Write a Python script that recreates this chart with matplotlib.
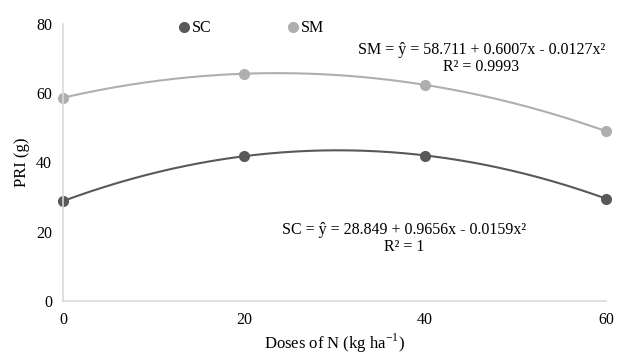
import numpy as np
import matplotlib
matplotlib.use("Agg")
import matplotlib.pyplot as plt

plt.rcParams["font.family"] = ["Liberation Serif", "DejaVu Serif"]

doses = [0, 20, 40, 60]
sc_vals = [28.8, 41.8, 42.0, 29.5]
sm_vals = [58.7, 65.6, 62.4, 49.0]
# trendline coefficients as printed on the chart (c, b, a)
sc_coef = [28.849, 0.9656, -0.0159]
sm_coef = [58.711, 0.6007, -0.0127]
sc_eq = "SC = ŷ = 28.849 + 0.9656x - 0.0159x²\nR² = 1"
sm_eq = "SM = ŷ = 58.711 + 0.6007x - 0.0127x²\nR² = 0.9993"

c_sc = "#595959"
c_sm = "#afafaf"

fig = plt.figure(figsize=(6.19, 3.59), dpi=100)
ax = fig.add_axes([0.102, 0.162, 0.877, 0.771])

xs = np.linspace(0, 60, 200)
for vals, coef, col, lab in ((sc_vals, sc_coef, c_sc, "SC"), (sm_vals, sm_coef, c_sm, "SM")):
    ax.plot(xs, np.polyval(coef[::-1], xs), color=col, lw=1.5)
    ax.plot(doses, vals, "o", color=col, ms=7, label=lab)

ax.set_xlim(0, 60)
ax.set_ylim(0, 80)
ax.set_xticks(doses)
ax.set_yticks([0, 20, 40, 60, 80])
ax.tick_params(length=0, labelsize=11.5, pad=8)
for s in ("top", "right"):
    ax.spines[s].set_visible(False)
for s in ("left", "bottom"):
    ax.spines[s].set_color("#d9d9d9")
    ax.spines[s].set_linewidth(1.2)
for ln in ax.lines:
    ln.set_clip_on(False)

ax.set_xlabel("Doses of N (kg ha$^{\\mathregular{-1}}$)", fontsize=12, labelpad=3)
ax.set_ylabel("PRI (g)", fontsize=12, labelpad=4)

ax.text(0.770, 0.935, sm_eq, transform=ax.transAxes, ha="center", va="top",
        fontsize=11.5, linespacing=1.1)
ax.text(0.628, 0.285, sc_eq, transform=ax.transAxes, ha="center", va="top",
        fontsize=11.5, linespacing=1.1)

ax.legend(loc="upper center", bbox_to_anchor=(0.345, 1.065), ncol=2, frameon=False,
          fontsize=11.5, handletextpad=0.0, columnspacing=4.6, handlelength=1.0)

fig.savefig("out.png", dpi=100)
